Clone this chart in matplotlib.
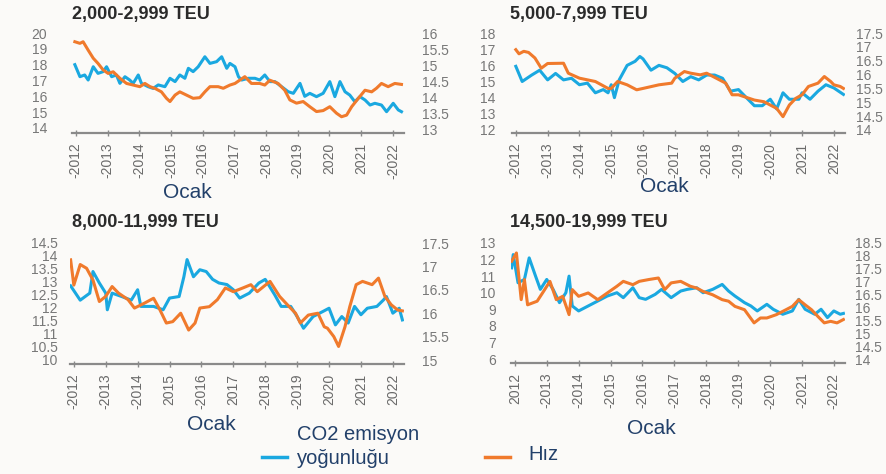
import matplotlib
matplotlib.use("Agg")
import matplotlib.pyplot as plt
from matplotlib.lines import Line2D

# ---- data (decimal year, value) ----
years = list(range(2012, 2023))

# 2,000-2,999 TEU
tl_co2_x = [2011.97, 2012.13, 2012.28, 2012.39, 2012.55, 2012.7, 2012.86, 2012.97, 2013.13, 2013.28,
            2013.39, 2013.55, 2013.7, 2013.81, 2013.97, 2014.07, 2014.28, 2014.44, 2014.6, 2014.81,
            2014.97, 2015.13, 2015.28, 2015.44, 2015.55, 2015.7, 2015.86, 2016.07, 2016.23, 2016.44,
            2016.6, 2016.76, 2016.86, 2017.02, 2017.13, 2017.23, 2017.44, 2017.65, 2017.8, 2017.96,
            2018.12, 2018.28, 2018.49, 2018.7, 2018.86, 2019.07, 2019.22, 2019.38, 2019.59, 2019.8,
            2020.01, 2020.17, 2020.33, 2020.49, 2020.64, 2020.8, 2020.96, 2021.12, 2021.28, 2021.43,
            2021.64, 2021.8, 2022.01, 2022.17, 2022.27]
tl_co2_y = [18.0, 17.24, 17.35, 17.03, 17.87, 17.45, 17.56, 17.87, 17.24, 17.35,
            16.82, 17.24, 17.03, 16.82, 17.35, 16.82, 16.61, 16.5, 16.72, 16.61,
            17.14, 16.93, 17.35, 17.14, 17.77, 17.56, 17.87, 18.5, 18.08, 18.19,
            18.5, 17.77, 18.08, 17.87, 17.24, 17.03, 17.14, 17.14, 17.03, 17.35,
            16.93, 16.93, 16.61, 16.29, 16.19, 16.82, 16.0, 16.19, 15.98, 16.19,
            16.93, 15.98, 16.93, 16.29, 16.08, 15.66, 15.98, 15.77, 15.45, 15.56,
            15.45, 15.03, 15.56, 15.14, 15.03]
tl_hiz_x = [2011.97, 2012.13, 2012.23, 2012.39, 2012.55, 2012.7, 2012.86, 2013.02, 2013.18, 2013.39,
            2013.6, 2013.81, 2014.02, 2014.18, 2014.34, 2014.49, 2014.7, 2014.86, 2014.97, 2015.13,
            2015.28, 2015.49, 2015.7, 2015.91, 2016.07, 2016.23, 2016.49, 2016.65, 2016.86, 2017.02,
            2017.33, 2017.54, 2017.8, 2017.96, 2018.12, 2018.38, 2018.59, 2018.75, 2018.96, 2019.17,
            2019.38, 2019.59, 2019.8, 2020.01, 2020.22, 2020.38, 2020.54, 2020.7, 2020.91, 2021.12,
            2021.33, 2021.48, 2021.64, 2021.85, 2022.06, 2022.27]
tl_hiz_y = [15.73, 15.68, 15.73, 15.47, 15.22, 15.06, 14.86, 14.75, 14.8, 14.6,
            14.44, 14.39, 14.34, 14.44, 14.34, 14.29, 14.18, 13.98, 13.88, 14.08,
            14.18, 14.08, 13.98, 14.0, 14.18, 14.34, 14.34, 14.29, 14.39, 14.44,
            14.65, 14.44, 14.44, 14.39, 14.54, 14.44, 14.23, 13.93, 13.83, 13.88,
            13.72, 13.57, 13.6, 13.72, 13.52, 13.41, 13.46, 13.72, 13.98, 14.23,
            14.18, 14.29, 14.44, 14.34, 14.44, 14.41]

# 5,000-7,999 TEU
tr_co2_x = [2012.0, 2012.2, 2012.5, 2012.75, 2013.0, 2013.25, 2013.5, 2013.75, 2014.0, 2014.25,
            2014.5, 2014.75, 2014.9, 2015.0, 2015.1, 2015.25, 2015.5, 2015.75, 2015.9, 2016.0,
            2016.25, 2016.5, 2016.75, 2017.0, 2017.25, 2017.5, 2017.75, 2018.0, 2018.25, 2018.5,
            2018.75, 2019.0, 2019.25, 2019.5, 2019.75, 2020.0, 2020.2, 2020.4, 2020.6, 2020.9,
            2021.0, 2021.25, 2021.5, 2021.75, 2022.0, 2022.15, 2022.3]
tr_co2_y = [15.94, 15.0, 15.4, 15.7, 15.1, 15.5, 15.1, 15.2, 14.8, 14.9,
            14.3, 14.5, 14.3, 14.8, 14.0, 15.1, 16.0, 16.25, 16.55, 16.4,
            15.7, 16.0, 15.85, 15.5, 15.0, 15.3, 15.1, 15.4, 15.4, 15.2,
            14.4, 14.5, 14.0, 13.5, 13.5, 13.9, 13.3, 14.3, 13.9, 13.9,
            14.3, 13.9, 14.4, 14.8, 14.6, 14.4, 14.2]
tr_hiz_x = [2012.0, 2012.1, 2012.25, 2012.4, 2012.6, 2012.8, 2013.0, 2013.5, 2013.65, 2014.0,
            2014.5, 2014.9, 2015.0, 2015.2, 2015.5, 2015.8, 2016.0, 2016.5, 2016.9, 2017.0,
            2017.3, 2017.5, 2017.8, 2018.0, 2018.3, 2018.6, 2018.8, 2019.0, 2019.5, 2019.8,
            2020.0, 2020.2, 2020.4, 2020.6, 2020.8, 2021.0, 2021.2, 2021.5, 2021.7, 2021.9,
            2022.0, 2022.2, 2022.3]
tr_hiz_y = [16.9, 16.75, 16.84, 16.8, 16.6, 16.23, 16.4, 16.41, 16.05, 15.87,
            15.75, 15.5, 15.5, 15.75, 15.63, 15.45, 15.5, 15.63, 15.69, 15.87,
            16.11, 16.05, 15.99, 16.05, 15.87, 15.69, 15.27, 15.27, 15.08, 15.02,
            14.9, 14.78, 14.48, 14.9, 15.14, 15.27, 15.57, 15.69, 15.93, 15.75,
            15.63, 15.57, 15.5]

# 8,000-11,999 TEU
bl_co2_x = [2011.9, 2012.2, 2012.5, 2012.6, 2012.8, 2013.0, 2013.05, 2013.2, 2013.5, 2013.8,
            2014.0, 2014.1, 2014.5, 2014.8, 2015.0, 2015.3, 2015.45, 2015.55, 2015.75, 2015.95,
            2016.15, 2016.35, 2016.55, 2016.8, 2017.0, 2017.2, 2017.5, 2017.8, 2018.0, 2018.3,
            2018.5, 2018.8, 2019.0, 2019.2, 2019.5, 2019.8, 2020.0, 2020.2, 2020.4, 2020.6,
            2020.8, 2021.0, 2021.2, 2021.5, 2021.7, 2021.8, 2022.0, 2022.2, 2022.3]
bl_co2_y = [12.85, 12.3, 12.57, 13.4, 12.96, 12.57, 11.93, 12.57, 12.44, 12.3,
            12.7, 12.06, 12.06, 11.93, 12.38, 12.44, 13.2, 13.86, 13.2, 13.47,
            13.4, 13.1, 12.96, 12.9, 12.7, 12.38, 12.57, 12.96, 13.1, 12.5,
            12.06, 12.06, 11.67, 11.22, 11.67, 11.86, 11.99, 11.35, 11.67, 11.42,
            12.06, 11.74, 11.99, 12.06, 12.3, 12.44, 11.8, 11.99, 11.54]
bl_hiz_x = [2011.9, 2012.0, 2012.2, 2012.4, 2012.6, 2012.8, 2013.0, 2013.2, 2013.4, 2013.7,
            2013.9, 2014.2, 2014.5, 2014.7, 2014.9, 2015.1, 2015.35, 2015.6, 2015.8, 2015.95,
            2016.25, 2016.5, 2016.75, 2017.0, 2017.3, 2017.55, 2017.75, 2017.95, 2018.15, 2018.45,
            2018.75, 2018.95, 2019.1, 2019.35, 2019.65, 2019.85, 2019.95, 2020.15, 2020.3, 2020.5,
            2020.65, 2020.85, 2021.05, 2021.35, 2021.55, 2021.75, 2021.95, 2022.15, 2022.3]
bl_hiz_y = [17.14, 16.6, 17.04, 16.96, 16.71, 16.25, 16.36, 16.57, 16.43, 16.29,
            16.11, 16.21, 16.32, 16.07, 15.79, 15.82, 16.0, 15.64, 15.79, 16.11,
            16.14, 16.29, 16.54, 16.46, 16.54, 16.61, 16.46, 16.57, 16.68, 16.36,
            16.14, 16.0, 15.79, 15.96, 16.0, 15.71, 15.68, 15.5, 15.29, 15.71,
            16.14, 16.61, 16.68, 16.61, 16.75, 16.36, 16.18, 16.07, 16.05]

# 14,500-19,999 TEU
br_co2_x = [2011.9, 2011.95, 2012.1, 2012.3, 2012.45, 2012.65, 2012.8, 2013.0, 2013.2, 2013.4,
            2013.6, 2013.7, 2013.8, 2014.0, 2014.3, 2014.6, 2014.9, 2015.2, 2015.4, 2015.7,
            2015.9, 2016.1, 2016.4, 2016.6, 2016.9, 2017.2, 2017.4, 2017.7, 2017.9, 2018.2,
            2018.5, 2018.7, 2018.9, 2019.2, 2019.4, 2019.6, 2019.9, 2020.1, 2020.4, 2020.7,
            2020.9, 2021.1, 2021.4, 2021.6, 2021.8, 2022.0, 2022.2, 2022.3]
br_co2_y = [11.5, 12.3, 10.6, 10.8, 12.1, 11.0, 10.2, 10.8, 10.2, 9.4,
            10.0, 11.0, 9.2, 8.9, 9.2, 9.5, 9.8, 10.0, 9.7, 10.3,
            9.7, 9.6, 9.9, 10.2, 9.7, 10.1, 10.2, 10.3, 10.0, 10.2,
            10.5, 10.1, 9.8, 9.4, 9.2, 8.9, 9.3, 9.0, 8.7, 8.9,
            9.6, 9.0, 8.7, 9.0, 8.5, 8.9, 8.7, 8.75]
br_hiz_x = [2011.9, 2012.05, 2012.2, 2012.3, 2012.4, 2012.7, 2012.9, 2013.1, 2013.3, 2013.5,
            2013.7, 2013.8, 2014.0, 2014.3, 2014.6, 2014.9, 2015.2, 2015.4, 2015.7, 2015.9,
            2016.2, 2016.5, 2016.7, 2016.9, 2017.2, 2017.5, 2017.7, 2017.9, 2018.2, 2018.5,
            2018.7, 2018.9, 2019.2, 2019.5, 2019.7, 2019.9, 2020.2, 2020.5, 2020.7, 2020.9,
            2021.1, 2021.3, 2021.5, 2021.7, 2021.9, 2022.1, 2022.3]
br_hiz_y = [17.79, 18.11, 16.3, 17.08, 16.1, 16.24, 16.62, 17.01, 16.3, 16.43,
            15.72, 16.69, 16.43, 16.56, 16.3, 16.56, 16.82, 17.01, 16.88, 17.01,
            17.08, 17.14, 16.69, 16.95, 17.01, 16.82, 16.75, 16.62, 16.49, 16.3,
            16.24, 16.04, 15.91, 15.4, 15.59, 15.59, 15.72, 15.91, 16.04, 16.3,
            16.1, 15.91, 15.65, 15.4, 15.46, 15.4, 15.53]

tl_xlabels = ["-2012", "-2013", "-2014", "-2015", "-2016", "-2017", "-2018", "-2019", "2020", "2021", "-2022"]
tr_xlabels = ["-2012", "-2013", "-2014", "-2015", "-2016", "-2017", "-2018", "-2019", "-2020", "2021", "2022"]
bl_xlabels = ["-2012", "-2013", "-2014", "2015", "-2016", "2017", "-2018", "-2019", "2020", "2021", "2022"]
br_xlabels = ["2012", "-2013", "-2014", "-2015", "-2016", "-2017", "-2018", "-2019", "-2020", "-2021", "-2022"]

BLUE = "#1aa8e0"
ORANGE = "#f07a2c"
BG = "#fbfaf8"
NAVY = "#22406a"
GRAY = "#777777"
NARROW = ["Liberation Sans Narrow", "Liberation Sans", "DejaVu Sans"]
SANS = ["Liberation Sans", "DejaVu Sans"]

W, H = 886, 474
fig = plt.figure(figsize=(W / 100, H / 100), dpi=100, facecolor=BG)


def px_rect(x0, y0, x1, y1):
    return [x0 / W, 1 - y1 / H, (x1 - x0) / W, (y1 - y0) / H]


def fmt(v):
    return f"{v:g}"


def panel(box, title, title_xy, ocak_xy, cx, cy, hx, hy, llim, lticks, rlim, rticks, xlabels, lpad, rpad):
    ax = fig.add_axes(px_rect(*box))
    ax.set_facecolor("none")
    ax2 = ax.twinx()
    ax.plot(cx, cy, color=BLUE, lw=2.2, solid_joinstyle="round")
    ax2.plot(hx, hy, color=ORANGE, lw=2.2, solid_joinstyle="round")
    ax.set_xlim(2011.88, 2022.35)
    ax.set_ylim(*llim)
    ax2.set_ylim(*rlim)
    for a in (ax, ax2):
        for s in ("top", "left", "right"):
            a.spines[s].set_visible(False)
        a.spines["bottom"].set_visible(False)
    ax.spines["bottom"].set_visible(True)
    ax.spines["bottom"].set_color("#8a8a8a")
    ax.spines["bottom"].set_linewidth(1.6)
    ax.set_xticks(years)
    ax.set_xticklabels(xlabels, rotation=90, family=NARROW, fontsize=10, color="#6a6a6a")
    ax.tick_params(axis="x", direction="inout", length=4, width=1, color="#8a8a8a", pad=5)
    ax.set_yticks(lticks)
    ax.set_yticklabels([fmt(v) for v in lticks], family=NARROW, fontsize=10, color=GRAY)
    ax.tick_params(axis="y", length=0, pad=lpad)
    ax2.set_yticks(rticks)
    ax2.set_yticklabels([fmt(v) for v in rticks], family=NARROW, fontsize=10, color=GRAY)
    ax2.tick_params(axis="y", length=0, pad=rpad)
    fig.text(title_xy[0] / W, 1 - title_xy[1] / H, title, family=NARROW, fontweight="bold",
             fontsize=13, color="#2a2a2a", ha="left", va="center")
    fig.text(ocak_xy[0] / W, 1 - ocak_xy[1] / H, "Ocak", family=SANS, fontsize=15,
             color=NAVY, ha="center", va="center")


panel((72, 30, 404, 133), "2,000-2,999 TEU", (72, 14), (187, 193),
      tl_co2_x, tl_co2_y, tl_hiz_x, tl_hiz_y,
      (13.684, 20.19), [14, 15, 16, 17, 18, 19, 20],
      (12.907, 16.093), [13, 13.5, 14, 14.5, 15, 15.5, 16],
      tl_xlabels, 18, 13)
panel((512, 30, 845, 133), "5,000-7,999 TEU", (510, 14), (664, 186),
      tr_co2_x, tr_co2_y, tr_hiz_x, tr_hiz_y,
      (11.81, 18.19), [12, 13, 14, 15, 16, 17, 18],
      (13.89, 17.61), [14, 14.5, 15, 15.5, 16, 16.5, 17, 17.5],
      tr_xlabels, 12, 8)
panel((70, 238, 404, 364), "8,000-11,999 TEU", (72, 222), (211, 424),
      bl_co2_x, bl_co2_y, bl_hiz_x, bl_hiz_y,
      (9.846, 14.69), [10, 10.5, 11, 11.5, 12, 12.5, 13, 13.5, 14, 14.5],
      (14.915, 17.607), [15, 15.5, 16, 16.5, 17, 17.5],
      bl_xlabels, 9, 13)
panel((511, 238, 845, 363), "14,500-19,999 TEU", (510, 222), (651, 428),
      br_co2_x, br_co2_y, br_hiz_x, br_hiz_y,
      (5.76, 13.3), [6, 7, 8, 9, 10, 11, 12, 13],
      (13.845, 18.69), [14, 14.5, 15, 15.5, 16, 16.5, 17, 17.5, 18, 18.5],
      br_xlabels, 11, 7)

# legend drawn by hand below the panels
fig.add_artist(Line2D([262 / W, 287 / W], [1 - 457 / H, 1 - 457 / H], color=BLUE, lw=2.5))
fig.text(297 / W, 1 - 435 / H, "CO2 emisyon", family=SANS, fontsize=14.5, color=NAVY, ha="left", va="center")
fig.text(297 / W, 1 - 458 / H, "yoğunluğu", family=SANS, fontsize=14.5, color=NAVY, ha="left", va="center")
fig.add_artist(Line2D([485 / W, 510 / W], [1 - 457 / H, 1 - 457 / H], color=ORANGE, lw=2.5))
fig.text(528 / W, 1 - 455 / H, "Hız", family=SANS, fontsize=14.5, color=NAVY, ha="left", va="center")

fig.savefig("out.png", dpi=100, facecolor=BG)
